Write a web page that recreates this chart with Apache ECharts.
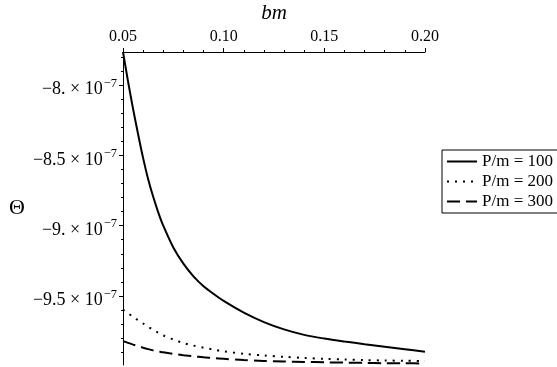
<!DOCTYPE html>
<html>
<head>
<meta charset="utf-8">
<script src="https://cdn.jsdelivr.net/npm/echarts@6/dist/echarts.min.js"></script>
<style>html,body{margin:0;padding:0;background:#fff}#c{width:557px;height:367px}</style>
</head>
<body>
<div id="c"></div>
<script>
var bm = [0.05,0.0525,0.055,0.0575,0.06,0.0625,0.065,0.0675,0.07,0.075,0.08,0.085,0.09,0.095,0.10,0.11,0.12,0.13,0.14,0.15,0.16,0.17,0.18,0.19,0.20];
var theta100 = [-7.766e-7,-7.975e-7,-8.17e-7,-8.35e-7,-8.52e-7,-8.67e-7,-8.795e-7,-8.905e-7,-9.0e-7,-9.155e-7,-9.27e-7,-9.36e-7,-9.43e-7,-9.485e-7,-9.535e-7,-9.618e-7,-9.685e-7,-9.737e-7,-9.776e-7,-9.802e-7,-9.823e-7,-9.842e-7,-9.86e-7,-9.878e-7,-9.896e-7];
var theta200 = [-9.596e-7,-9.622e-7,-9.648e-7,-9.672e-7,-9.695e-7,-9.718e-7,-9.741e-7,-9.761e-7,-9.78e-7,-9.809e-7,-9.834e-7,-9.852e-7,-9.867e-7,-9.881e-7,-9.893e-7,-9.91e-7,-9.922e-7,-9.932e-7,-9.94e-7,-9.946e-7,-9.951e-7,-9.955e-7,-9.958e-7,-9.96e-7,-9.962e-7];
var theta300 = [-9.82e-7,-9.833e-7,-9.845e-7,-9.856e-7,-9.867e-7,-9.877e-7,-9.886e-7,-9.893e-7,-9.9e-7,-9.911e-7,-9.92e-7,-9.928e-7,-9.935e-7,-9.941e-7,-9.946e-7,-9.955e-7,-9.961e-7,-9.965e-7,-9.968e-7,-9.971e-7,-9.973e-7,-9.975e-7,-9.977e-7,-9.978e-7,-9.979e-7];
var seriesNames = ['P/m = 100','P/m = 200','P/m = 300'];
var yTickValues = [-9.5e-7,-9e-7,-8.5e-7,-8e-7];
var yTickLabels = ['\u22129.5','\u22129.','\u22128.5','\u22128.'];
var yMinorValues = [-9.9e-7,-9.8e-7,-9.7e-7,-9.6e-7,-9.4e-7,-9.3e-7,-9.2e-7,-9.1e-7,-8.9e-7,-8.8e-7,-8.7e-7,-8.6e-7,-8.4e-7,-8.3e-7,-8.2e-7,-8.1e-7,-7.9e-7,-7.8e-7];
var xTickLabels = ['0.05','0.10','0.15','0.20'];

function pairs(ys){ return bm.map(function(x,i){ return [x, ys[i]]; }); }
var serif = 'Liberation Serif';
var yMin = -9.99e-7, yMax = -7.766e-7;

var chart = echarts.init(document.getElementById('c'));
chart.setOption({
  animation: false,
  backgroundColor: '#fff',
  grid: { left: 123, right: 132, top: 52, bottom: 2, containLabel: false, outerBoundsMode: 'none' },
  legend: {
    orient: 'vertical', left: 442, top: 150,
    borderColor: '#000', borderWidth: 1, borderRadius: 0,
    padding: [3, 60, 3, 4],
    itemWidth: 30, itemHeight: 14, itemGap: 3,
    itemStyle: { opacity: 0 },
    textStyle: { fontFamily: serif, fontSize: 17, color: '#000' },
    data: seriesNames
  },
  xAxis: {
    type: 'value', position: 'top', min: 0.05, max: 0.20, interval: 0.05,
    name: 'bm', nameLocation: 'middle', nameGap: 20,
    nameTextStyle: { fontFamily: serif, fontStyle: 'italic', fontSize: 21, color: '#000' },
    axisLine: { show: true, lineStyle: { color: '#000', width: 1 } },
    axisTick: { show: true, inside: false, length: 4, lineStyle: { color: '#000' } },
    minorTick: { show: true, splitNumber: 5, length: 2, lineStyle: { color: '#000' } },
    splitLine: { show: false },
    axisLabel: { fontFamily: serif, fontSize: 16, color: '#000', margin: 7,
      formatter: function(v){ var i = Math.round((v-0.05)/0.05); return xTickLabels[i] || ''; } }
  },
  yAxis: [{
    type: 'value', min: yMin, max: yMax, position: 'left',
    name: '\u0398', nameLocation: 'middle', nameGap: 98, nameRotate: 0,
    nameTextStyle: { fontFamily: serif, fontSize: 22, color: '#000' },
    axisLine: { show: true, lineStyle: { color: '#000', width: 1 } },
    axisTick: { show: true, length: 4, customValues: yTickValues, lineStyle: { color: '#000' } },
    splitLine: { show: false },
    axisLabel: {
      customValues: yTickValues, margin: 6, padding: [9, 0, 0, 0],
      formatter: function(v){
        var best = 0, d = 1;
        yTickValues.forEach(function(t,i){ if (Math.abs(t-v) < d){ d = Math.abs(t-v); best = i; } });
        return '{b|' + yTickLabels[best] + ' \u00d7 10}{s|\u22127}';
      },
      rich: {
        b: { fontFamily: serif, fontSize: 18, color: '#000' },
        s: { fontFamily: serif, fontSize: 12.5, color: '#000', padding: [0, 0, 12, 1] }
      }
    }
  }, {
    type: 'value', min: yMin, max: yMax, position: 'left',
    axisLine: { show: false },
    axisTick: { show: true, length: 2, customValues: yMinorValues, lineStyle: { color: '#000' } },
    axisLabel: { show: false },
    splitLine: { show: false }
  }],
  series: [
    { name: seriesNames[0], type: 'line', data: pairs(theta100), symbol: 'none', smooth: 0.3,
      lineStyle: { color: '#000', width: 2, type: 'solid' }, itemStyle: { color: '#000' } },
    { name: seriesNames[1], type: 'line', data: pairs(theta200), symbol: 'none', smooth: 0.3,
      lineStyle: { color: '#000', width: 2, type: [2, 6] }, itemStyle: { color: '#000' } },
    { name: seriesNames[2], type: 'line', data: pairs(theta300), symbol: 'none', smooth: 0.3,
      lineStyle: { color: '#000', width: 2, type: [13, 6] }, itemStyle: { color: '#000' } }
  ]
});
</script>
</body>
</html>
